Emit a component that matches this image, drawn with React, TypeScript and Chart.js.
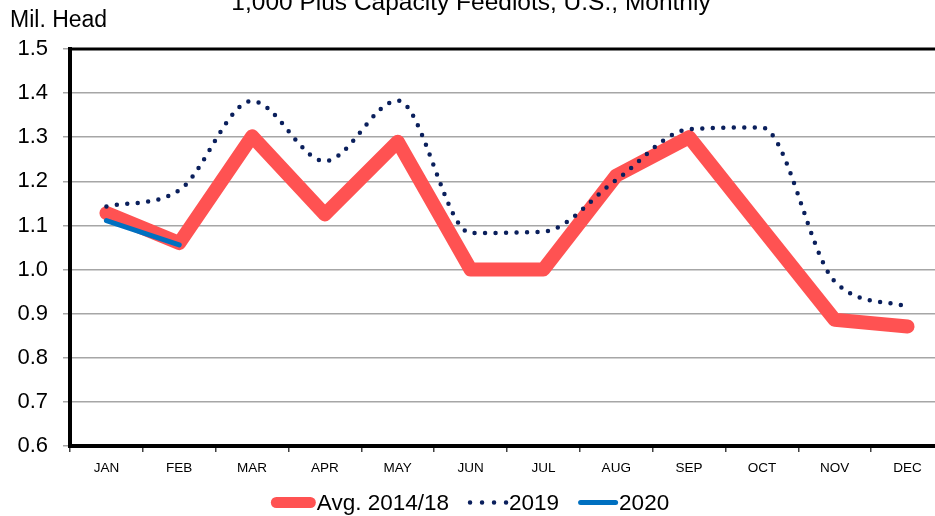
import React, { useEffect, useRef } from 'react';
import { Chart, registerables } from 'chart.js';

Chart.register(...registerables);

const months = ['JAN', 'FEB', 'MAR', 'APR', 'MAY', 'JUN', 'JUL', 'AUG', 'SEP', 'OCT', 'NOV', 'DEC'];
const avgValues = [1.128, 1.06, 1.302, 1.125, 1.29, 1.0, 1.0, 1.213, 1.3, 1.093, 0.886, 0.871];
const values2019 = [1.143, 1.18, 1.382, 1.246, 1.383, 1.083, 1.086, 1.203, 1.318, 1.322, 0.973, 0.916];
const values2020 = [1.111, 1.056, null, null, null, null, null, null, null, null, null, null];
const seriesLabels = ['Avg. 2014/18', '2019', '2020'];
const titleText = '1,000 Plus Capacity Feedlots, U.S., Monthly';
const unitText = 'Mil. Head';
const FONT = '"Liberation Sans", Arial, sans-serif';

const overlay = {
  id: 'overlay',
  beforeDatasetsDraw(chart: any) {
    const { ctx, chartArea } = chart;
    ctx.save();
    ctx.strokeStyle = '#000';
    ctx.lineWidth = 3;
    ctx.beginPath();
    ctx.moveTo(chartArea.left, chartArea.top);
    ctx.lineTo(chartArea.right, chartArea.top);
    ctx.lineTo(chartArea.right, chartArea.bottom);
    ctx.stroke();
    ctx.restore();
  },
  afterDraw(chart: any) {
    const { ctx } = chart;
    ctx.save();
    ctx.fillStyle = '#000';
    ctx.textBaseline = 'alphabetic';
    // title (cut off at the top as in the reference)
    ctx.font = `24.5px ${FONT}`;
    ctx.textAlign = 'center';
    ctx.fillText(titleText, 471, 30);
    // unit label
    ctx.font = `23px ${FONT}`;
    ctx.textAlign = 'left';
    ctx.fillText(unitText, 10, 47);

    // legend
    ctx.font = `22.5px ${FONT}`;
    const ds = chart.data.datasets;
    const symW = [45, 40, 40];
    const gapText = 1;
    const gapItem = 19;
    const widths = ds.map((d: any, i: number) => symW[i] + gapText + ctx.measureText(d.label).width);
    const total = widths.reduce((a: number, b: number) => a + b, 0) + gapItem * (ds.length - 1);
    let x = 470 - total / 2;
    const cy = 522.5;
    ds.forEach((d: any, i: number) => {
      ctx.save();
      ctx.strokeStyle = d.borderColor;
      ctx.lineCap = 'round';
      if (i === 0) {
        ctx.lineWidth = 11;
        ctx.beginPath();
        ctx.moveTo(x + 5.5, cy);
        ctx.lineTo(x + symW[i] - 5.5, cy);
        ctx.stroke();
      } else if (i === 1) {
        ctx.lineWidth = 4.5;
        ctx.setLineDash([0, 12]);
        ctx.beginPath();
        ctx.moveTo(x + 2, cy);
        ctx.lineTo(x + 39, cy);
        ctx.stroke();
      } else {
        ctx.lineWidth = 5;
        ctx.beginPath();
        ctx.moveTo(x + 2.5, cy);
        ctx.lineTo(x + symW[i] - 2.5, cy);
        ctx.stroke();
      }
      ctx.restore();
      ctx.fillStyle = '#000';
      ctx.textAlign = 'left';
      ctx.fillText(d.label, x + symW[i] + gapText, 529.5);
      x += widths[i] + gapItem;
    });
    ctx.restore();
  },
};

export default function App() {
  const ref = useRef<HTMLCanvasElement>(null);
  useEffect(() => {
    const canvas = ref.current!;
    Chart.defaults.font.family = FONT;
    const chart = new Chart(canvas, {
      type: 'line',
      data: {
        labels: months,
        datasets: [
          {
            label: seriesLabels[0],
            data: avgValues,
            borderColor: '#FF5252',
            backgroundColor: '#FF5252',
            borderWidth: 14,
            borderJoinStyle: 'round',
            borderCapStyle: 'round',
            pointRadius: 0,
            tension: 0,
            order: 3,
          },
          {
            label: seriesLabels[1],
            data: values2019,
            borderColor: '#0A1F5C',
            backgroundColor: '#0A1F5C',
            borderWidth: 4.5,
            borderDash: [0, 10.5],
            borderCapStyle: 'round',
            pointRadius: 0,
            cubicInterpolationMode: 'monotone',
            order: 2,
          },
          {
            label: seriesLabels[2],
            data: values2020,
            borderColor: '#0070C0',
            backgroundColor: '#0070C0',
            borderWidth: 5,
            borderCapStyle: 'round',
            pointRadius: 0,
            tension: 0,
            order: 1,
          },
        ],
      } as any,
      options: {
        responsive: false,
        animation: false,
        devicePixelRatio: 1,
        layout: { padding: { top: 69, right: 16, bottom: 30, left: 0 } },
        plugins: {
          legend: { display: false },
          title: { display: false },
          tooltip: { enabled: false },
        },
        scales: {
          x: {
            type: 'category',
            offset: true,
            grid: {
              offset: true,
              drawOnChartArea: false,
              drawTicks: true,
              tickLength: 6,
              color: '#404040',
              lineWidth: 1.5,
            },
            border: { color: '#000', width: 4 },
            ticks: {
              font: { size: 13.5 },
              color: '#000',
              padding: 8,
              maxRotation: 0,
              autoSkip: false,
            },
            afterFit(s: any) {
              s.height = 40;
            },
          },
          y: {
            min: 0.6,
            max: 1.5,
            ticks: {
              stepSize: 0.1,
              callback: (v: any) => Number(v).toFixed(1),
              font: { size: 22 },
              color: '#000',
              padding: 15,
            },
            grid: {
              color: '#A6A6A6',
              lineWidth: 1.5,
              tickLength: 7,
              drawTicks: true,
            },
            border: { color: '#000', width: 4 },
            afterFit(s: any) {
              s.width = 70;
            },
          },
        },
      } as any,
      plugins: [overlay],
    });
    return () => chart.destroy();
  }, []);
  return (
    <div style={{ position: 'fixed', left: 0, top: 0, width: 935, height: 516, overflow: 'hidden', background: '#fff' }}>
      <div style={{ position: 'absolute', left: 0, top: -20, width: 960, height: 536 }}>
        <canvas ref={ref} width={960} height={536} style={{ width: 960, height: 536, display: 'block' }} />
      </div>
    </div>
  );
}
